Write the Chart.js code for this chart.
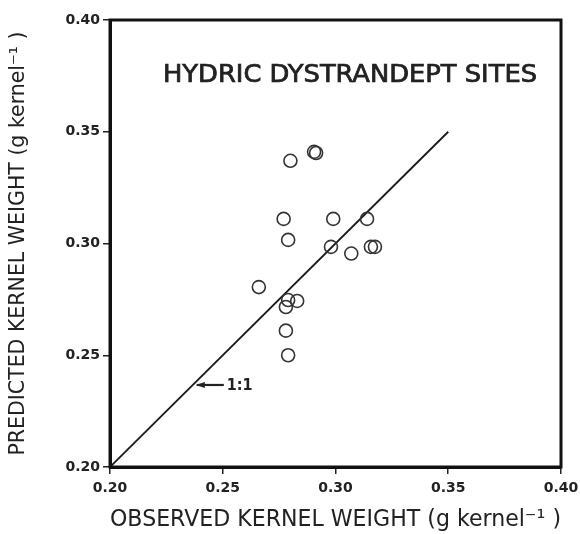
<!DOCTYPE html>
<html>
<head>
<meta charset="utf-8">
<script src="https://cdn.jsdelivr.net/npm/chart.js@4.4.0/dist/chart.umd.min.js"></script>
<style>
  body { margin: 0; background: #fff; }
  #wrap { width: 580px; height: 534px; }
</style>
</head>
<body>
<div id="wrap"><canvas id="myChart" width="580" height="534"></canvas></div>
<script>
// observed vs predicted kernel weight (g kernel-1)
let observed = [0.280, 0.2905, 0.2914, 0.277, 0.299, 0.314, 0.279, 0.298, 0.307, 0.3157, 0.3175, 0.266, 0.279, 0.283, 0.278, 0.278, 0.279];
let predicted = [0.337, 0.341, 0.3405, 0.311, 0.311, 0.311, 0.3016, 0.2985, 0.2955, 0.2985, 0.2985, 0.2805, 0.2747, 0.2743, 0.2716, 0.261, 0.250];

// 1:1 reference line
let lineX = [0.20, 0.35];
let lineY = [0.20, 0.35];

let tickValues = [0.20, 0.25, 0.30, 0.35, 0.40];
let titleText = "HYDRIC DYSTRANDEPT SITES";
let oneToOneLabel = "1:1";
let oneToOneAt = [0.2385, 0.2367];

let points = observed.map(function (x, i) { return { x: x, y: predicted[i] }; });
let refLine = lineX.map(function (x, i) { return { x: x, y: lineY[i] }; });

const frameAndText = {
    id: 'frameAndText',
    afterDatasetsDraw(chart) {
        const ctx = chart.ctx;
        const a = chart.chartArea;
        const xs = chart.scales.x, ys = chart.scales.y;
        ctx.save();
        ctx.strokeStyle = '#111';
        ctx.lineWidth = 3;
        ctx.strokeRect(a.left, a.top, a.right - a.left, a.bottom - a.top);

        // title inside the plot, fitted to the width of the original
        ctx.fillStyle = '#222';
        ctx.strokeStyle = '#222';
        ctx.font = '25px "DejaVu Sans Condensed", "DejaVu Sans", sans-serif';
        ctx.textAlign = 'left';
        ctx.textBaseline = 'middle';
        let w = ctx.measureText(titleText).width;
        ctx.save();
        ctx.translate(163, 75);
        ctx.scale(374 / w, 1);
        ctx.lineWidth = 0.7;
        ctx.fillText(titleText, 0, 0);
        ctx.strokeText(titleText, 0, 0);
        ctx.restore();

        // arrow + 1:1 label
        let px = xs.getPixelForValue(oneToOneAt[0]);
        let py = ys.getPixelForValue(oneToOneAt[1]);
        ctx.lineWidth = 2.2;
        ctx.beginPath();
        ctx.moveTo(px, py);
        ctx.lineTo(px + 27, py);
        ctx.stroke();
        ctx.beginPath();
        ctx.moveTo(px - 1, py);
        ctx.lineTo(px + 8, py - 3);
        ctx.lineTo(px + 8, py + 3);
        ctx.closePath();
        ctx.fill();
        ctx.font = 'bold 16px "DejaVu Sans Condensed", sans-serif';
        ctx.fillText(oneToOneLabel, px + 30, py + 1);
        ctx.restore();
    }
};

new Chart("myChart", {
    type: "scatter",
    data: {
        datasets: [{
            data: points,
            pointStyle: 'circle',
            pointRadius: 6.5,
            pointBorderWidth: 1.6,
            pointBorderColor: '#333',
            pointBackgroundColor: 'rgba(0,0,0,0)'
        }, {
            type: 'line',
            data: refLine,
            borderColor: '#1a1a1a',
            borderWidth: 1.8,
            pointRadius: 0,
            fill: false
        }]
    },
    options: {
        responsive: false,
        animation: false,
        layout: { padding: { top: 20, right: 19, left: 0, bottom: 0 } },
        plugins: {
            legend: { display: false },
            tooltip: { enabled: false }
        },
        scales: {
            x: {
                type: 'linear',
                min: 0.20,
                max: 0.40,
                afterBuildTicks: function (s) { s.ticks = tickValues.map(function (v) { return { value: v }; }); },
                afterFit: function (s) { s.height = 67; s.paddingRight = 0; s.paddingLeft = 0; },
                grid: { drawOnChartArea: false, drawTicks: true, tickLength: 7, color: '#222', lineWidth: 1.5 },
                border: { display: true, width: 3, color: '#111' },
                ticks: {
                    color: '#222',
                    padding: 6,
                    maxRotation: 0,
                    font: { family: '"DejaVu Sans", sans-serif', size: 14, weight: 'bold' },
                    callback: function (v) { return v.toFixed(2); }
                },
                title: {
                    display: true,
                    text: 'OBSERVED KERNEL WEIGHT (g kernel\u207B\u00B9 )',
                    color: '#222',
                    padding: { top: 0, bottom: 0 },
                    font: { family: '"DejaVu Sans", sans-serif', size: 22.5 }
                }
            },
            y: {
                type: 'linear',
                min: 0.20,
                max: 0.40,
                afterBuildTicks: function (s) { s.ticks = tickValues.map(function (v) { return { value: v }; }); },
                afterFit: function (s) { s.width = 110; s.paddingTop = 0; s.paddingBottom = 0; },
                grid: { drawOnChartArea: false, drawTicks: true, tickLength: 7, color: '#222', lineWidth: 1.5 },
                border: { display: true, width: 3, color: '#111' },
                ticks: {
                    color: '#222',
                    padding: 3,
                    font: { family: '"DejaVu Sans", sans-serif', size: 14, weight: 'bold' },
                    callback: function (v) { return v.toFixed(2); }
                },
                title: {
                    display: true,
                    text: 'PREDICTED KERNEL WEIGHT (g kernel\u207B\u00B9 )',
                    color: '#222',
                    padding: { top: 6, bottom: 0 },
                    font: { family: '"DejaVu Sans", sans-serif', size: 20.5 }
                }
            }
        }
    },
    plugins: [frameAndText]
});
</script>
</body>
</html>
